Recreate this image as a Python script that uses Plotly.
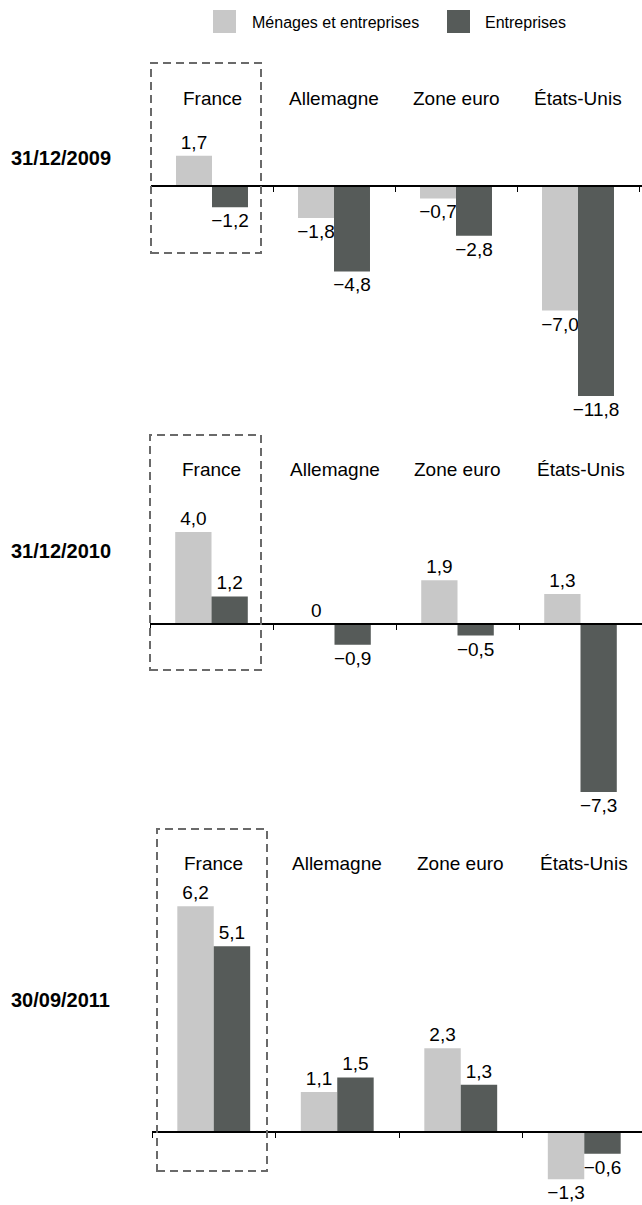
import plotly.graph_objects as go

# ---- data -------------------------------------------------------------
countries = ["France", "Allemagne", "Zone euro", "États-Unis"]
series_names = ["Ménages et entreprises", "Entreprises"]
dates = ["31/12/2009", "31/12/2010", "30/09/2011"]

menages_2009 = [1.7, -1.8, -0.7, -7.0]
entreprises_2009 = [-1.2, -4.8, -2.8, -11.8]
menages_2010 = [4.0, 0.0, 1.9, 1.3]
entreprises_2010 = [1.2, -0.9, -0.5, -7.3]
menages_2011 = [6.2, 1.1, 2.3, -1.3]
entreprises_2011 = [5.1, 1.5, 1.3, -0.6]

values = [
    (menages_2009, entreprises_2009),
    (menages_2010, entreprises_2010),
    (menages_2011, entreprises_2011),
]

# ---- styling ----------------------------------------------------------
W, H = 642, 1205
FONT = "Liberation Sans, Arial, Helvetica, sans-serif"
COLORS = ["#c8c8c8", "#565b59"]


def py(px):
    """pixel row -> paper y"""
    return 1 - px / H


def fmt(v):
    if v == 0:
        return "0"
    return f"{v:.1f}".replace(".", ",").replace("-", "\u2212")


# layout of each panel in pixels: zero line, px per unit, vertical extent,
# left edge of axis, category width, label rows, highlight box
panels = [
    dict(zero=186, scale=17.8, top=55, bottom=430, x0=151, cat=122,
         label_y=98, date_y=158, box=(151, 63, 261, 253)),
    dict(zero=624, scale=23.0, top=430, bottom=815, x0=150, cat=123,
         label_y=470, date_y=551, box=(150, 435, 261, 670)),
    dict(zero=1132, scale=36.4, top=815, bottom=1205, x0=152, cat=123.5,
         label_y=863, date_y=1000, box=(157, 829, 267, 1171)),
]

fig = go.Figure()
layout = dict(
    width=W, height=H, autosize=False,
    margin=dict(l=0, r=0, t=0, b=0),
    paper_bgcolor="white", plot_bgcolor="rgba(0,0,0,0)",
    barmode="group", bargap=0.41, bargroupgap=0,
    showlegend=False,
    font=dict(family=FONT, color="black"),
)
annotations = []
shapes = []

for i, (p, date, (v1, v2)) in enumerate(zip(panels, dates, values)):
    sfx = "" if i == 0 else str(i + 1)
    xa, ya = "x" + sfx, "y" + sfx

    for name, vals, col in zip(series_names, (v1, v2), COLORS):
        fig.add_trace(go.Bar(
            x=countries, y=vals, name=name, offsetgroup=name,
            marker=dict(color=col, line=dict(width=0)),
            text=[fmt(v) for v in vals], textposition="outside",
            textfont=dict(size=19, color="black", family=FONT),
            constraintext="none", cliponaxis=False,
            xaxis=xa, yaxis=ya, hoverinfo="skip",
        ))

    layout["yaxis" + sfx] = dict(
        domain=[py(p["bottom"]), py(p["top"])],
        range=[(p["zero"] - p["bottom"]) / p["scale"],
               (p["zero"] - p["top"]) / p["scale"]],
        visible=False, showgrid=False, zeroline=False, fixedrange=True,
    )
    layout["xaxis" + sfx] = dict(
        type="category", categoryorder="array", categoryarray=countries,
        domain=[p["x0"] / W, 1],
        range=[-0.5, -0.5 + (W - p["x0"]) / p["cat"]],
        anchor="free", position=py(p["zero"]),
        showline=True, linecolor="black", linewidth=1.5,
        ticks="outside", tickson="boundaries", ticklen=5,
        tickcolor="black", tickwidth=1,
        showticklabels=False, showgrid=False, zeroline=False,
        fixedrange=True,
    )

    # country names above each group
    for c in countries:
        annotations.append(dict(
            xref=xa, yref="paper", x=c, y=py(p["label_y"]),
            text=c, showarrow=False, xanchor="center", yanchor="middle",
            font=dict(size=19, family=FONT, color="black"),
        ))

    # date label on the left
    annotations.append(dict(
        xref="paper", yref="paper", x=9 / W, y=py(p["date_y"]),
        text=f"<b>{date}</b>", showarrow=False,
        xanchor="left", yanchor="middle",
        font=dict(size=20, family=FONT, color="black"),
    ))

    # dashed frame around France
    bx0, by0, bx1, by1 = p["box"]
    shapes.append(dict(
        type="rect", xref="paper", yref="paper",
        x0=bx0 / W, x1=bx1 / W, y0=py(by1), y1=py(by0),
        line=dict(color="#6a6a6a", width=2, dash="8px,5px"),
        fillcolor="rgba(0,0,0,0)", layer="above",
    ))

# legend drawn at the top
legend_items = [(213, 250), (447, 483)]
for (sx, tx), name, col in zip(legend_items, series_names, COLORS):
    shapes.append(dict(
        type="rect", xref="paper", yref="paper",
        x0=sx / W, x1=(sx + 23) / W, y0=py(33), y1=py(10),
        fillcolor=col, line=dict(width=0),
    ))
    annotations.append(dict(
        xref="paper", yref="paper", x=tx / W, y=py(22),
        text=name, showarrow=False, xanchor="left", yanchor="middle",
        font=dict(size=16, family=FONT, color="black"),
    ))

layout["annotations"] = annotations
layout["shapes"] = shapes
fig.update_layout(**layout)

fig.write_html("out.html")
